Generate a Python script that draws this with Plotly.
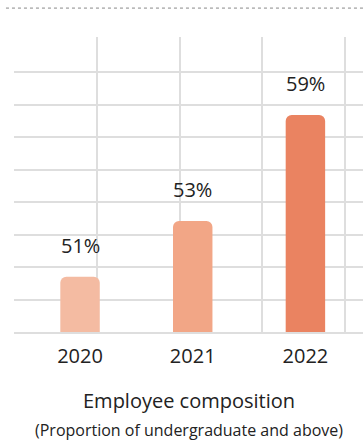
import plotly.graph_objects as go

years = ["2020", "2021", "2022"]
bar_heights = [17.0, 34.2, 66.8]
labels = ["51%", "53%", "59%"]
colors = ["#F4BBA2", "#F2A686", "#EA8361"]
y_grid = [0, 10, 20, 30, 40, 50, 60, 70, 80]
title = "Employee composition"
subtitle = "(Proportion of undergraduate and above)"

FONT = "Open Sans"
TXT = "#222222"
GRID = "#dedede"

fig = go.Figure()
fig.add_trace(go.Bar(
    x=years, y=bar_heights, marker=dict(color=colors, line=dict(width=0)),
    width=0.35, hoverinfo="skip", showlegend=False,
))
# invisible trace to activate the secondary x axis used for vertical grid
fig.add_trace(go.Scatter(x=[0], y=[0], xaxis="x2", mode="markers",
                         marker=dict(opacity=0), showlegend=False, hoverinfo="skip"))

for i, (h, lab) in enumerate(zip(bar_heights, labels)):
    fig.add_annotation(x=i, y=h, xref="x", yref="y", text=lab, showarrow=False,
                       yshift=31,
                       font=dict(family=FONT, size=20, color=TXT))

fig.add_annotation(xref="paper", yref="paper", x=0.5, y=0, yshift=-68,
                   text=title, showarrow=False, yanchor="middle",
                   font=dict(family=FONT, size=20, color=TXT))
fig.add_annotation(xref="paper", yref="paper", x=0.5, y=0, yshift=-98,
                   text=subtitle, showarrow=False, yanchor="middle",
                   font=dict(family=FONT, size=16, color=TXT))

fig.add_shape(type="line", xref="paper", yref="paper",
              x0=-0.023, x1=1.0, y0=1.098, y1=1.098,
              line=dict(color="#888888", width=1, dash="dot"))

fig.update_layout(
    width=363, height=443,
    margin=dict(l=14, r=0, t=37, b=111),
    paper_bgcolor="white", plot_bgcolor="white",
    barcornerradius=6,
    font=dict(family=FONT, color=TXT),
    xaxis=dict(type="category", range=[-0.586, 2.511], showgrid=False,
               showline=True, linecolor=GRID, linewidth=1.5,
               ticks="", tickfont=dict(size=20, color=TXT),
               ticklabelstandoff=5, fixedrange=True),
    xaxis2=dict(overlaying="x", range=[0, 4.215], tickvals=[0, 1, 2, 3, 4],
                showgrid=True, gridcolor=GRID, gridwidth=1.5,
                showticklabels=False, zeroline=False, showline=False,
                side="bottom", layer="below traces"),
    yaxis=dict(range=[0, 90.8], tickvals=y_grid, showgrid=True,
               gridcolor=GRID, gridwidth=1.5, zeroline=False,
               showticklabels=False, showline=False),
)

fig.write_html("out.html")
